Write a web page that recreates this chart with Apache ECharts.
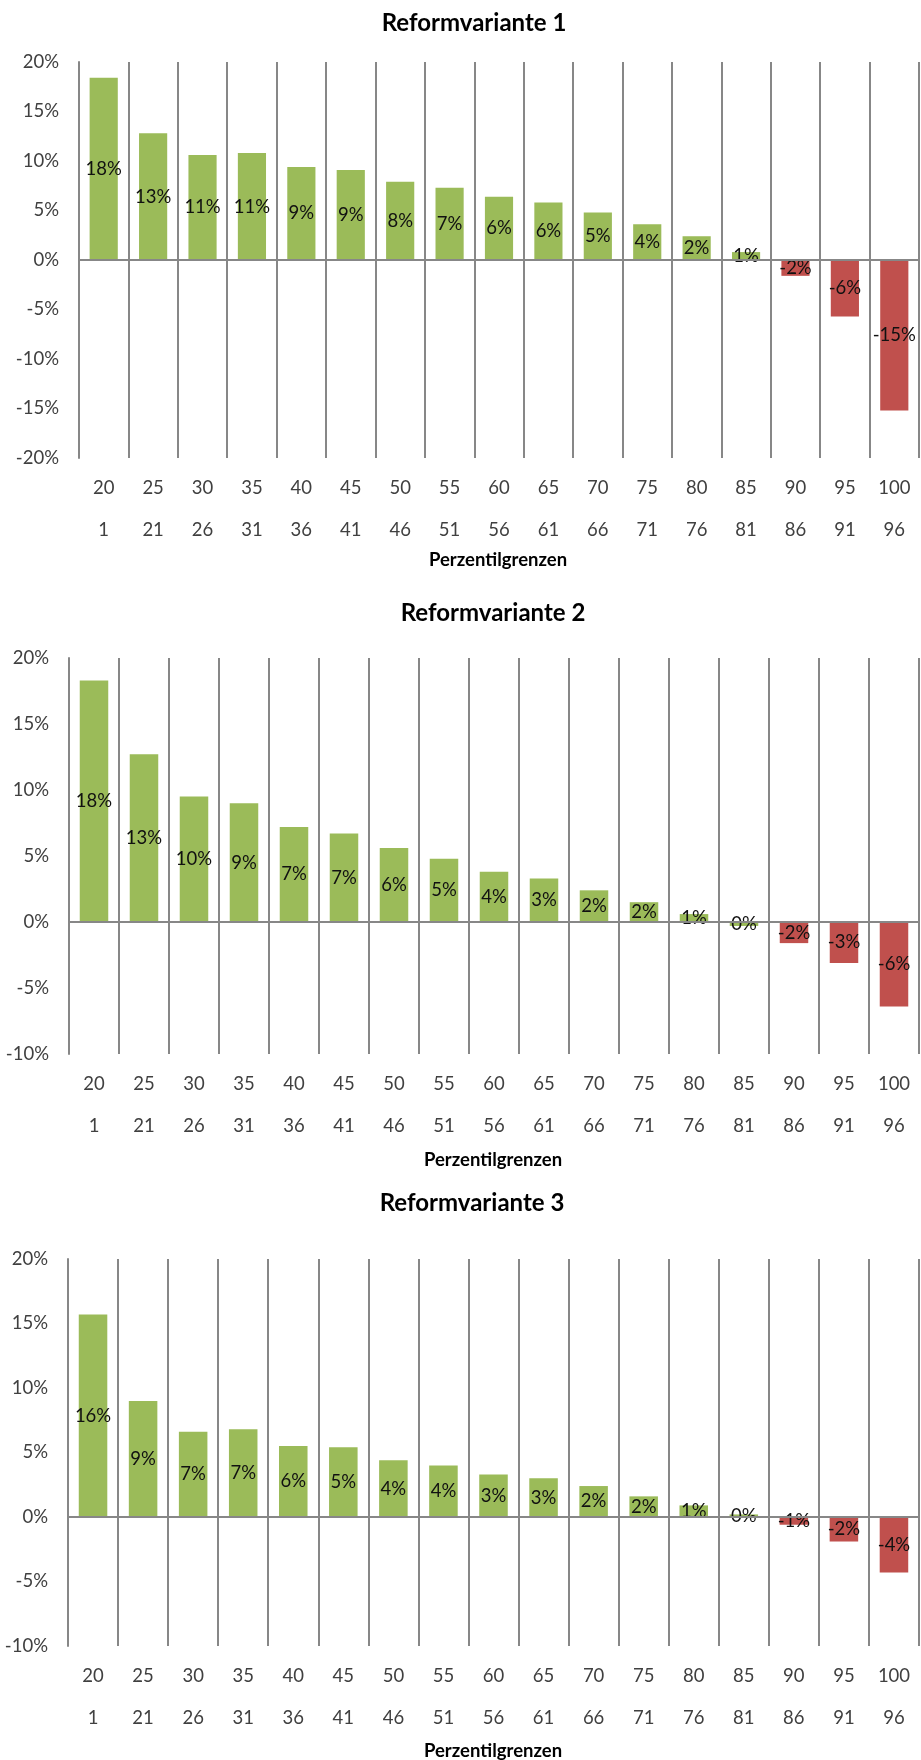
<!DOCTYPE html>
<html>
<head>
<meta charset="utf-8">
<script src="https://cdn.jsdelivr.net/npm/echarts@6/dist/echarts.min.js"></script>
<style>
  html, body { margin: 0; padding: 0; background: #fff; }
  #chart { width: 921px; height: 1760px; }
</style>
</head>
<body>
<div id="chart"></div>
<script>
// Perzentilgrenzen: obere und untere Grenze je Gruppe
var upperLabels = ['20', '25', '30', '35', '40', '45', '50', '55', '60', '65', '70', '75', '80', '85', '90', '95', '100']
var lowerLabels = ['1', '21', '26', '31', '36', '41', '46', '51', '56', '61', '66', '71', '76', '81', '86', '91', '96']

// Werte in Prozent
var variante1 = [18.4, 12.8, 10.6, 10.8, 9.4, 9.1, 7.9, 7.3, 6.4, 5.8, 4.8, 3.6, 2.4, 0.8, -1.6, -5.7, -15.2]
var variante2 = [18.3, 12.7, 9.5, 9.0, 7.2, 6.7, 5.6, 4.8, 3.8, 3.3, 2.4, 1.5, 0.6, -0.3, -1.6, -3.1, -6.4]
var variante3 = [15.7, 9.0, 6.6, 6.8, 5.5, 5.4, 4.4, 4.0, 3.3, 3.0, 2.4, 1.6, 0.9, 0.2, -0.6, -1.9, -4.3]

var titles = ['Reformvariante 1', 'Reformvariante 2', 'Reformvariante 3']
var yMins = [-20, -10, -10]
var yMax = 20
var yStep = 5

var GREEN = '#9BBB59'
var RED = '#C0504D'
var LINE = '#878787'
var FONT = 'Lato, "Open Sans", sans-serif'

// Lage der drei Diagramme
var grids = [
  { left: 79, top: 62, width: 840, height: 396 },
  { left: 69, top: 658, width: 850, height: 396 },
  { left: 68, top: 1259, width: 851, height: 387 }
]
var titlePos = [[474, 23], [493, 613], [472, 1203]]
var axisNamePos = [[498, 560], [493, 1160], [493, 1751]]

var series = [variante1, variante2, variante3]

var chart = echarts.init(document.getElementById('chart'))

var option = {
  animation: false,
  grid: grids,
  xAxis: grids.map(function (g, i) {
    return {
      type: 'category',
      gridIndex: i,
      data: upperLabels,
      position: 'bottom',
      axisLine: { show: false },
      axisTick: {
        show: true,
        length: 84,
        lineStyle: { color: LINE, width: 2 }
      },
      splitLine: {
        show: true,
        interval: 0,
        lineStyle: { color: LINE, width: 2 }
      },
      axisLabel: {
        interval: 0,
        margin: 9,
        lineHeight: 42,
        fontSize: 18.5,
        fontFamily: FONT,
        color: '#404040',
        formatter: function (v, idx) {
          return v + '\n' + lowerLabels[idx]
        }
      }
    }
  }),
  yAxis: grids.map(function (g, i) {
    return {
      type: 'value',
      gridIndex: i,
      min: yMins[i],
      max: yMax,
      interval: yStep,
      axisLine: { show: true, lineStyle: { color: LINE, width: 2 } },
      axisTick: { show: false },
      splitLine: { show: false },
      axisLabel: {
        margin: 20,
        fontSize: 18.5,
        fontFamily: FONT,
        color: '#404040',
        formatter: '{value}%'
      }
    }
  }),
  series: series.map(function (values, i) {
    return {
      type: 'bar',
      xAxisIndex: i,
      yAxisIndex: i,
      data: values,
      barWidth: '57%',
      itemStyle: {
        color: function (p) {
          return p.dataIndex >= 14 ? RED : GREEN
        }
      },
      label: {
        show: true,
        position: 'inside',
        fontSize: 18.5,
        fontFamily: FONT,
        color: '#111',
        formatter: function (p) {
          return (Math.round(p.value) || 0) + '%'
        }
      },
      markLine: {
        silent: true,
        symbol: 'none',
        label: { show: false },
        lineStyle: { color: LINE, width: 2, type: 'solid' },
        data: [{ yAxis: 0 }]
      }
    }
  }),
  graphic: titles.map(function (t, i) {
    return {
      type: 'text',
      x: titlePos[i][0],
      y: titlePos[i][1],
      style: {
        text: t,
        align: 'center',
        verticalAlign: 'middle',
        fontSize: 24,
        fontWeight: 'bold',
        fontFamily: FONT,
        fill: '#000'
      }
    }
  }).concat(axisNamePos.map(function (pos) {
    return {
      type: 'text',
      x: pos[0],
      y: pos[1],
      style: {
        text: 'Perzentilgrenzen',
        align: 'center',
        verticalAlign: 'middle',
        fontSize: 18.5,
        fontWeight: 'bold',
        fontFamily: FONT,
        fill: '#000'
      }
    }
  }))
}

chart.setOption(option)
</script>
</body>
</html>
